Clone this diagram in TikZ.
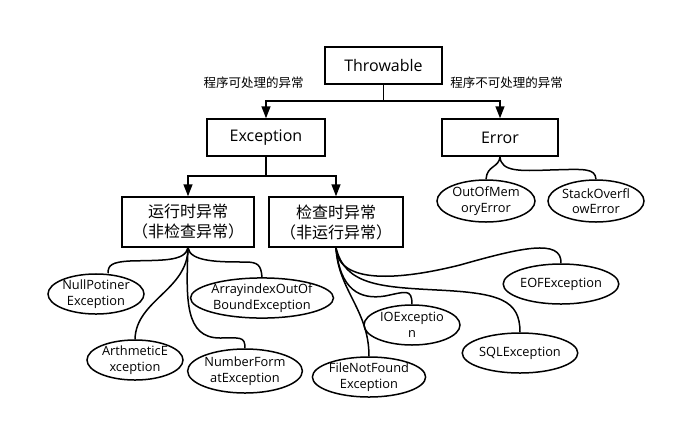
\documentclass[tikz,border=0pt]{standalone}
\usepackage{fontspec}
\setmainfont{Open Sans}
\newfontfamily\cjk{Noto Sans CJK SC}
\usetikzlibrary{arrows.meta,calc,shapes.geometric}
\begin{document}
\begin{tikzpicture}[x=1pt,y=-1pt,
  box/.style={draw,line width=1.5pt,inner sep=0pt,font=\fontsize{16}{20}\selectfont,align=center},
  ell/.style={draw,ellipse,line width=1.5pt,inner sep=0pt,font=\fontsize{12.8}{15.5}\selectfont,align=center},
  lbl/.style={font=\cjk\fontsize{12.5}{15}\selectfont,inner sep=0pt},
  con/.style={line width=1.5pt},
  arr/.style={line width=1.5pt,-{Triangle[length=12pt,width=9pt]}}]
\useasboundingbox (0,0) rectangle (677,429);
\fill[white] (0,0) rectangle (677,429);
% boxes
\node[box,minimum width=117pt,minimum height=37pt] (thr) at (383.5,65.5) {Throwable};
\node[box,minimum width=118pt,minimum height=37pt] (exc) at (266,137.5) {Exception};
\node[box,minimum width=116pt,minimum height=37pt] (err) at (500,137.5) {Error};
\node[box,minimum width=132pt,minimum height=50pt,font=\cjk\fontsize{16}{20}\selectfont] (rt) at (188,222) {运行时异常\\（非检查异常）};
\node[box,minimum width=134pt,minimum height=50pt,font=\cjk\fontsize{16}{20}\selectfont] (ck) at (336,222) {检查时异常\\（非运行异常）};
% labels
\node[lbl] (l1) at (253.5,83) {程序可处理的异常};
\node[lbl] (l2) at (506.5,83) {程序不可处理的异常};
% ellipses
\node[ell,minimum width=96pt,minimum height=36pt] (np) at (96,294) {NullPotiner\\Exception};
\node[ell,minimum width=130pt,minimum height=38pt] (ai) at (262,298) {ArrayindexOutOf\\BoundException};
\node[ell,minimum width=96pt,minimum height=40pt] (ar) at (135,360) {ArthmeticE\\xception};
\node[ell,minimum width=106pt,minimum height=44pt] (nf) at (245,371) {NumberForm\\atException};
\node[ell,minimum width=98pt,minimum height=42pt] (oom) at (486,201) {OutOfMem\\oryError};
\node[ell,minimum width=96pt,minimum height=42pt] (so) at (596,201) {StackOverfl\\owError};
\node[ell,minimum width=114pt,minimum height=40pt] (eof) at (561,284) {EOFException};
\node[ell,minimum width=96pt,minimum height=40pt] (io) at (412,325) {IOExceptio\\n};
\node[ell,minimum width=114pt,minimum height=40pt] (sql) at (520,353) {SQLException};
\node[ell,minimum width=106pt,minimum height=40pt] (fnf) at (369,377) {FileNotFound\\Exception};
% tree connectors
\draw[arr] (thr.south) -- ++(0,16) coordinate (j1) -| (exc.north);
\draw[arr] (j1) -| (err.north);
\draw[arr] (exc.south) -- ++(0,19) coordinate (j2) -| (rt.north);
\draw[arr] (j2) -| (ck.north);
% error children
\draw[con] (err.south) .. controls (499,168) and (487,165) .. (oom.north);
\draw[con] (err.south) .. controls (501,172) and (520,171) .. (550,170) .. controls (585,169) and (595,168) .. (so.north);
% runtime children
\draw[con] (rt.south) .. controls (185,262) and (160,260) .. (130,261) .. controls (112,262) and (108,265) .. ([xshift=12pt]np.north);
\draw[con] (rt.south) .. controls (190,262) and (220,262) .. (245,262) .. controls (258,262) and (261,265) .. (ai.north);
\draw[con] (rt.south) .. controls (188,290) and (136,300) .. (ar.north);
\draw[con] (rt.south) .. controls (186,300) and (185,338) .. (220,338) .. controls (240,338) and (245,336) .. (nf.north);
% checked children
\draw[con] (ck.south) .. controls (338,285) and (400,280) .. (460,265) .. controls (520,248) and (562,238) .. (eof.north);
\draw[con] (ck.south) .. controls (340,290) and (360,300) .. (385,296) .. controls (405,292) and (412,288) .. (io.north);
\draw[con] (ck.south) .. controls (345,285) and (380,287) .. (437,290) .. controls (500,293) and (520,300) .. (sql.north);
\draw[con] (ck.south) .. controls (338,290) and (369,310) .. (fnf.north);
\end{tikzpicture}
\end{document}
